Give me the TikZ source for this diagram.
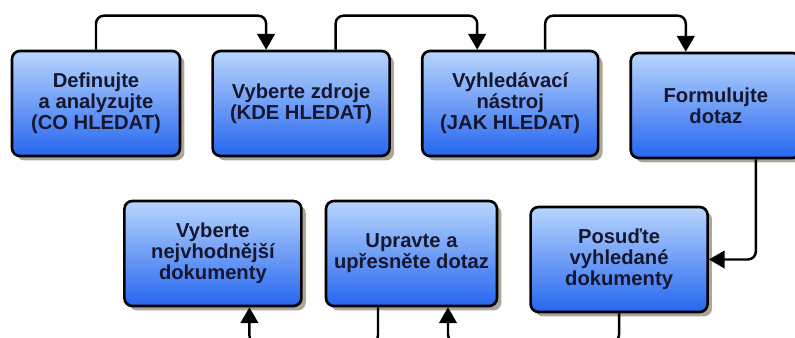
\documentclass[tikz,border=0pt]{standalone}
\usepackage{fontspec}
\setmainfont{Liberation Sans}
\usetikzlibrary{positioning,shadows,arrows.meta}
\definecolor{topblue}{HTML}{B8D6FC}
\definecolor{botblue}{HTML}{2666F0}
\definecolor{inkblue}{HTML}{16162E}
\definecolor{shadowgray}{HTML}{ABA69A}
\tikzset{block/.style={draw=black,line width=1.5pt,rounded corners=4.5pt,
        top color=topblue,bottom color=botblue,minimum height=2.1cm,
        align=center,text=inkblue,font=\fontsize{11.5}{12}\selectfont\bfseries,
        drop shadow={shadow xshift=2.5pt,shadow yshift=-2.5pt,fill=shadowgray,opacity=1}},
        link/.style={line width=1.4pt,rounded corners=4.5pt,
        -{Triangle[length=9pt,width=10pt]}}}

\begin{document}
\begin{tikzpicture}[x=0.02cm,y=-0.02cm]
\useasboundingbox (0,0) rectangle (795,338);
% top row
\node[block,minimum width=3.36cm] (define) at (96,103.5) {Definujte\\a analyzujte\\(CO HLEDAT)};
\node[block,minimum width=3.54cm,right=0.6cm of define] (sources) {Vyberte zdroje\\(KDE HLEDAT)};
\node[block,minimum width=3.52cm,right=0.6cm of sources] (tool) {Vyhledávací\\nástroj\\(JAK HLEDAT)};
\node[block,minimum width=3.4cm,right=0.6cm of tool,yshift=-0.04cm] (query) {Formulujte\\dotaz};
% bottom row
\node[block,minimum width=3.42cm] (refine) at (411.5,253.5) {Upravte a\\upřesněte dotaz};
\node[block,minimum width=3.54cm,left=0.44cm of refine] (best) {Vyberte\\nejvhodnější\\dokumenty};
\node[block,minimum width=3.54cm,right=0.62cm of refine,yshift=-0.12cm] (assess) {Posuďte\\vyhledané\\dokumenty};
% links
\draw[link] (define.north) -- ++(0,-34) -| ([xshift=-0.7cm]sources.north);
\draw[link] ([xshift=0.69cm]sources.north) -- ++(0,-34) -| ([xshift=-0.66cm]tool.north);
\draw[link] ([xshift=0.7cm]tool.north) -- ++(0,-34) -| ([xshift=-0.6cm]query.north);
\draw[link] ([xshift=0.8cm]query.south) |- (assess.east);
\draw[link] (assess.south) -- ++(0,29) -| ([xshift=0.73cm]refine.south);
\draw[link] ([xshift=-0.67cm]refine.south) -- ++(0,36) -| ([xshift=0.73cm]best.south);
\end{tikzpicture}
\end{document}
